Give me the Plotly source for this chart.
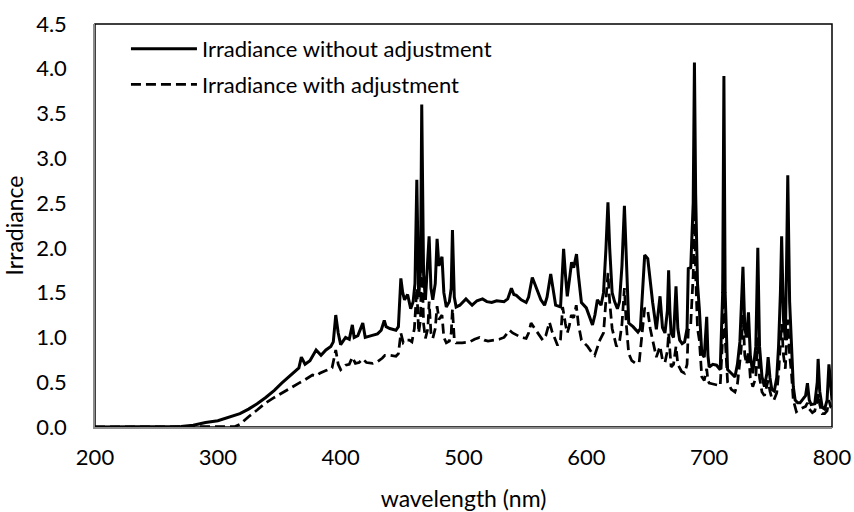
import plotly.graph_objects as go

# ---- data ----
wl_solid = [200, 250, 270, 280, 290, 300, 310, 318, 325, 332, 339, 346, 352, 358, 362, 366, 368, 371, 375, 380,
            384, 388, 392, 394, 396, 398, 400, 404, 407, 409.5, 411, 414, 418, 420, 425, 430, 433, 435.5, 437, 440,
            445, 447, 449, 450.5, 452, 454.5, 457, 459, 460.5, 462, 463.5, 465, 466, 467.5, 469, 470.5, 472, 473.5,
            475, 477, 478.5, 480, 481, 482.5, 484, 486, 488.5, 490, 491, 492.5, 494, 497, 502, 507, 511, 515.5,
            519, 523, 527, 533, 536, 539, 541, 543, 547, 551, 553, 556, 558, 560.5, 563, 566, 568, 571, 573, 575,
            579, 580, 581.5, 583, 584.5, 586, 588, 589.7, 591, 592, 593.5, 596, 600, 603, 605, 607, 609, 612, 614,
            616, 617.6, 619, 621, 623, 625.3, 627, 629, 631, 632.5, 634.5, 638, 642, 644, 646, 647.5, 650, 652, 654,
            657, 660, 662, 664, 666, 667, 668, 669, 671, 673, 674.5, 676, 678, 680, 682, 683, 685, 687, 688, 689,
            690.5, 692, 694, 696, 698, 699, 700, 703, 706, 709, 711, 712, 713, 715, 718, 721, 723, 725, 727.5, 729,
            730.5, 732, 733.5, 735.5, 738, 739.6, 741, 743, 745, 747, 748, 749.5, 751, 753, 755, 756.5, 758, 759,
            760.5, 762, 763, 764, 765.5, 767, 768.5, 770, 772, 774, 776, 778.5, 780, 781.5, 783, 786, 788, 788.7,
            790, 792, 794, 796, 797.5, 799, 800]
irr_solid = [0.0, 0.0, 0.005, 0.02, 0.05, 0.07, 0.11, 0.15, 0.2, 0.26, 0.33, 0.41, 0.49, 0.56, 0.61, 0.66, 0.78, 0.70, 0.74, 0.86,
             0.80, 0.86, 0.90, 0.95, 1.25, 1.05, 0.92, 1.0, 0.98, 1.14, 1.0, 1.02, 1.16, 1.0, 1.02, 1.04, 1.08, 1.19, 1.12, 1.10,
             1.08, 1.12, 1.66, 1.50, 1.42, 1.48, 1.32, 1.40, 1.60, 2.76, 1.45, 1.75, 3.6, 1.70, 1.42, 1.80, 2.13, 1.55,
             1.42, 1.60, 2.10, 1.80, 1.85, 1.90, 1.50, 1.34, 1.40, 1.55, 2.2, 1.45, 1.34, 1.36, 1.43, 1.36, 1.41, 1.43,
             1.40, 1.39, 1.41, 1.40, 1.43, 1.55, 1.48, 1.47, 1.42, 1.39, 1.45, 1.67, 1.60, 1.52, 1.42, 1.36, 1.45, 1.71, 1.55, 1.36,
             1.34, 1.60, 1.99, 1.70, 1.46, 1.62, 1.84, 1.78, 1.85, 1.93, 1.70, 1.39, 1.33, 1.22, 1.14, 1.25, 1.42, 1.36, 1.50,
             2.0, 2.51, 2.0, 1.50, 1.40, 1.32, 1.40, 1.80, 2.47, 1.80, 1.16, 1.12, 1.06, 1.10, 1.60, 1.92, 1.88, 1.60, 1.39,
             1.09, 1.46, 1.11, 1.05, 1.30, 1.75, 1.30, 1.05, 1.00, 1.57, 1.10, 0.97, 0.93, 0.95, 1.10, 1.77, 1.78, 2.50, 4.07, 2.60,
             1.60, 1.32, 0.82, 0.78, 1.23, 0.80, 0.67, 0.70, 0.69, 0.64, 1.50, 3.92, 1.50, 0.64, 0.60, 0.56, 0.70, 0.95, 1.79, 1.10,
             1.00, 1.28, 0.80, 0.60, 0.90, 2.00, 0.90, 0.56, 0.45, 0.60, 0.78, 0.55, 0.42, 0.40, 0.55, 0.90, 1.50, 2.13,
             1.20, 0.97, 1.80, 2.81, 1.40, 0.82, 0.45, 0.30, 0.27, 0.27, 0.31, 0.35, 0.49, 0.30, 0.25, 0.26, 0.50, 0.76,
             0.40, 0.22, 0.20, 0.30, 0.70, 0.40, 0.30]

wl_dashed = [200, 310, 314, 318, 322, 325.5, 332, 339, 346, 352, 358, 366, 370, 374, 377, 380, 383, 388, 393, 396,
             398, 400, 404, 407, 409.5, 412, 415, 418, 421, 426, 430, 434, 436, 440, 445, 447, 449, 451, 454, 456,
             458, 460, 462, 463.5, 465, 466, 467.5, 469, 471, 472, 473.5, 475, 477, 478.5, 480, 482.5, 484, 486,
             488.5, 490, 491, 492.5, 494, 499, 505, 509, 513, 517, 520, 525, 529, 533, 537.5, 540, 543, 547, 551,
             553, 555, 558, 560.6, 564.5, 567, 570, 572, 576.6, 579, 580.7, 583, 584.5, 586, 587.8, 589.7, 591.8,
             593.5, 596, 601, 604, 606.8, 609, 611, 614, 616, 617.6, 619, 621, 624.5, 627, 629, 631, 632.5, 634.5,
             637, 640, 643, 646, 647.5, 650, 652, 654, 657, 660, 662, 664, 666, 667, 668, 669, 671, 673, 674.5,
             677.5, 680, 682, 683, 685, 687, 688, 689, 690.5, 692, 694, 696, 698, 699, 700, 703, 706, 709, 711, 712,
             713, 715, 718, 721, 723, 725, 726, 727.5, 729, 730.5, 732, 733.5, 735.5, 738, 739.6, 741, 743, 745,
             747, 748, 749.5, 751, 752.7, 755, 756.5, 758, 759, 760.5, 762, 763, 764, 765.5, 767, 768.5, 771, 774,
             776, 778.5, 780, 781.5, 784, 786, 788, 789, 790, 792, 794, 796, 797.5, 799, 800]
irr_dashed = [0.0, 0.0, 0.005, 0.03, 0.08, 0.12, 0.19, 0.27, 0.33, 0.38, 0.43, 0.49, 0.52, 0.56, 0.58, 0.57, 0.60, 0.63, 0.66, 0.86,
              0.70, 0.64, 0.69, 0.70, 0.78, 0.71, 0.72, 0.76, 0.72, 0.71, 0.73, 0.77, 0.80, 0.80, 0.79, 0.82, 1.05, 0.94, 0.97, 0.97,
              0.95, 1.10, 1.55, 1.05, 1.20, 1.95, 1.15, 0.99, 1.10, 1.40, 1.05, 0.99, 1.10, 1.35, 1.20, 1.25, 1.00, 0.94,
              0.96, 1.05, 1.32, 0.98, 0.94, 0.94, 0.95, 0.98, 1.00, 0.97, 0.96, 0.97, 0.98, 1.00, 1.08, 1.05, 1.03, 1.00, 0.99,
              1.05, 1.16, 1.10, 1.05, 0.97, 1.02, 1.17, 1.07, 0.91, 0.98, 1.34, 1.15, 1.05, 1.12, 1.25, 1.22, 1.36,
              1.15, 0.97, 0.90, 0.84, 0.80, 0.90, 0.97, 1.05, 1.40, 1.72, 1.40, 1.10, 0.90, 0.95, 1.15, 1.55, 1.15, 0.82,
              0.74, 0.71, 0.72, 1.10, 1.33, 1.30, 1.10, 0.97, 0.78, 0.90, 0.75, 0.72, 0.85, 1.05, 0.85, 0.67, 0.70, 0.90, 0.70,
              0.62, 0.60, 0.70, 1.08, 1.15, 1.70, 2.45, 1.70, 1.10, 0.97, 0.56, 0.52, 0.65, 0.52, 0.49, 0.48, 0.47, 0.46, 1.00, 2.30,
              1.00, 0.50, 0.42, 0.39, 0.48, 0.70, 0.86, 1.25, 0.80, 0.70, 0.85, 0.55, 0.45, 0.55, 1.00, 0.55, 0.39, 0.35,
              0.45, 0.52, 0.40, 0.32, 0.30, 0.38, 0.60, 0.90, 1.15, 0.80, 0.65, 0.95, 1.20, 0.80, 0.60, 0.30, 0.17, 0.20,
              0.21, 0.23, 0.27, 0.20, 0.16, 0.18, 0.30, 0.37, 0.25, 0.15, 0.15, 0.18, 0.30, 0.22, 0.21]

x_ticks = [200, 300, 400, 500, 600, 700, 800]
y_ticks = [0.0, 0.5, 1.0, 1.5, 2.0, 2.5, 3.0, 3.5, 4.0, 4.5]

FONT = "Lato"

fig = go.Figure()
fig.add_trace(go.Scatter(x=wl_solid, y=irr_solid, mode="lines",
                         name="Irradiance without adjustment", legendgroup="a",
                         line=dict(color="black", width=3)))
fig.add_trace(go.Scatter(x=wl_dashed, y=irr_dashed, mode="lines",
                         name="Irradiance with adjustment", legendgroup="b",
                         line=dict(color="black", width=2.75, dash="10px,5px")))

fig.add_shape(type="rect", xref="paper", yref="paper", x0=0, y0=0, x1=1, y1=1,
              line=dict(color="black", width=1.5), layer="below")

fig.update_layout(
    width=854, height=512,
    margin=dict(l=95, r=22, t=24, b=85),
    paper_bgcolor="white", plot_bgcolor="white",
    font=dict(family=FONT, color="black", size=22),
    showlegend=True,
    legend=dict(x=0.042, y=0.99, xanchor="left", yanchor="top",
                bgcolor="rgba(0,0,0,0)", font=dict(size=22, family=FONT),
                tracegroupgap=4, itemwidth=66),
    xaxis=dict(range=[200, 800], tickvals=x_ticks, ticktext=[str(v) for v in x_ticks],
               showgrid=False, zeroline=False, showline=True, linecolor="#8c8c8c", linewidth=1.5,
               ticks="", ticklabelstandoff=10, automargin=False,
               title=dict(text="wavelength (nm)", font=dict(size=23, family=FONT), standoff=22),
               tickfont=dict(size=22, family=FONT)),
    yaxis=dict(range=[0, 4.5], tickvals=y_ticks, ticktext=[f"{v:.1f}" for v in y_ticks],
               showgrid=False, zeroline=False, showline=True, linecolor="#8c8c8c", linewidth=1.5,
               ticks="", ticklabelstandoff=22, automargin=False,
               title=dict(text="Irradiance", font=dict(size=23, family=FONT), standoff=8),
               tickfont=dict(size=22, family=FONT)),
)

fig.write_html("out.html")
